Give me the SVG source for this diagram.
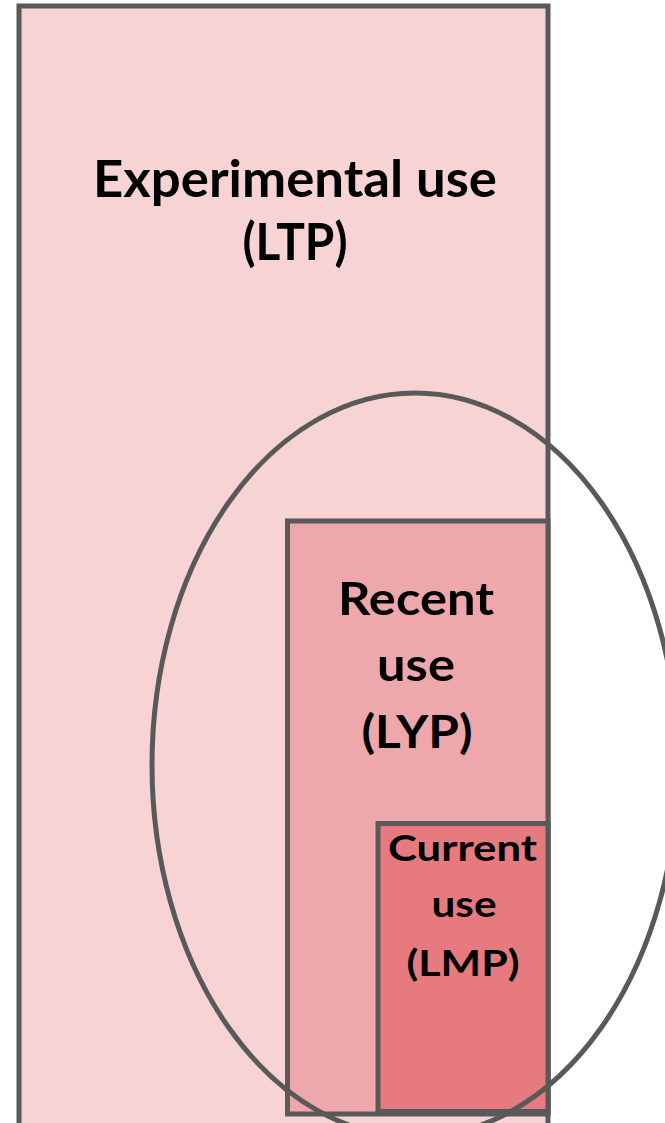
<svg xmlns="http://www.w3.org/2000/svg" width="665" height="1123" viewBox="0 0 665 1123">
<style>
.box{stroke:#595959;stroke-width:5}
.t{font-family:Lato,"Open Sans","Liberation Sans",sans-serif;font-weight:bold;fill:#000;text-anchor:middle}
</style>
<rect width="665" height="1123" fill="#fff"/>
<g id="experimental">
<rect class="box" x="19" y="6" width="529" height="1140" fill="#F7D3D4"/>
<text class="t" x="295" y="197" font-size="52" textLength="404" lengthAdjust="spacingAndGlyphs">Experimental use</text>
<text class="t" x="295" y="260" font-size="52" textLength="105" lengthAdjust="spacingAndGlyphs">(LTP)</text>
</g>
<g id="recent">
<rect class="box" x="287.5" y="521" width="260.5" height="593" fill="#EEA8AB"/>
<text class="t" x="416" y="615" font-size="46" textLength="156" lengthAdjust="spacingAndGlyphs">Recent</text>
<text class="t" x="416" y="681" font-size="46" textLength="78" lengthAdjust="spacingAndGlyphs">use</text>
<text class="t" x="417" y="748" font-size="46" textLength="111" lengthAdjust="spacingAndGlyphs">(LYP)</text>
</g>
<g id="current">
<rect class="box" x="378" y="823.5" width="170" height="288" fill="#E67A7E"/>
<text class="t" x="462.5" y="861" font-size="37" textLength="149" lengthAdjust="spacingAndGlyphs">Current</text>
<text class="t" x="464" y="917" font-size="37" textLength="65" lengthAdjust="spacingAndGlyphs">use</text>
<text class="t" x="463" y="976" font-size="37" textLength="113" lengthAdjust="spacingAndGlyphs">(LMP)</text>
</g>
<g id="connectors">
<ellipse cx="415" cy="765" rx="263" ry="372" fill="none" stroke="#595959" stroke-width="5"/>
</g>
</svg>
